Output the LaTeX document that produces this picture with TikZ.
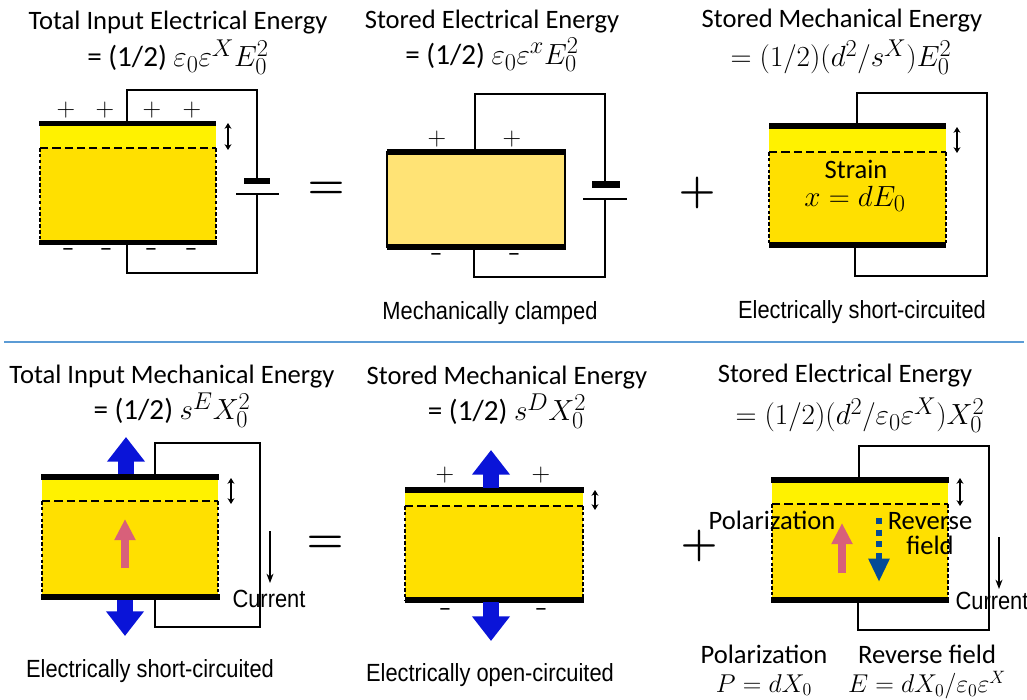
\documentclass[tikz,border=0pt]{standalone}
\usepackage{fontspec}
\usetikzlibrary{arrows.meta}
\setmainfont{Carlito}
\newfontfamily\capfont[FakeStretch=0.88]{Liberation Sans}
\definecolor{bright}{HTML}{FFF200}
\definecolor{crystal}{HTML}{FFE000}
\definecolor{clamped}{HTML}{FFE375}
\definecolor{pushblue}{HTML}{0A14D8}
\definecolor{polpink}{HTML}{D8607A}
\definecolor{fieldblue}{HTML}{044A96}
\definecolor{rulecol}{HTML}{5B9BD5}
\tikzset{
	headline/.style={inner sep=0pt, font=\fontsize{22.7}{26}\selectfont},
	formula/.style={inner sep=0pt, font=\fontsize{24.88}{30}\selectfont},
	smallformula/.style={inner sep=0pt, font=\fontsize{20.74}{26}\selectfont, scale=1.06},
	caption/.style={inner sep=0pt, font=\capfont\fontsize{21.2}{25}\selectfont},
	sign/.style={inner sep=0pt, font=\fontsize{20.74}{26}\selectfont, scale=1.06},
	bigsign/.style={inner sep=0pt, font=\fontsize{24.88}{30}\selectfont\boldmath, scale=1.45},
	plate/.style={line width=5pt},
	wire/.style={line width=1.1pt},
	level/.style={dash pattern=on 7pt off 3.5pt, line width=1.1pt},
	edge/.style={densely dashed, line width=0.9pt},
	strainarrow/.style={{Stealth[length=5pt,width=6pt]}-{Stealth[length=5pt,width=6pt]}, line width=1pt},
	currentarrow/.style={-{Stealth[length=8pt,width=6pt]}, line width=1pt},
	pusharrow/.style={pushblue, line width=14pt, -{Triangle[length=21pt,width=31pt]}},
	polarrow/.style={polpink, line width=6.5pt, -{Triangle[length=18pt,width=17pt]}},
	fieldhead/.style={fieldblue, line width=5.5pt, -{Triangle[length=20pt,width=17pt]}},
	fielddots/.style={fieldblue, line width=5pt, dash pattern=on 5pt off 5pt},
}
\begin{document}
\begin{tikzpicture}[x=0.03cm, y=-0.03cm]
	\useasboundingbox (0,0) rectangle (1027,700);
	\fill[white] (0,0) rectangle (1027,700);

	\node[headline] (titleA) at (178,23) {Total Input Electrical Energy};
	\node[formula] (formA) at (178,57) {= (1/2) $\varepsilon_0\varepsilon^X E_0^2$};
	\fill[crystal] (40,148) rectangle (216,240);
	\fill[bright] (40,124) rectangle (216,148);
	\draw[edge] (40,148) -- (40,240);
	\draw[edge] (216,148) -- (216,240);
	\draw[level] (40,148) -- (216,148);
	\draw[plate] (39,123.5) -- (216,123.5);
	\draw[plate] (39,242.5) -- (217,242.5);
	\coordinate (battA) at (257,178);
	\coordinate (cellA) at (257,194);
	\draw[wire] (127,121) -- (127,90) -- (257,90) -- (battA);
	\draw[wire] (127,240) -- (127,273) -- (257,273) -- (cellA);
	\draw[wire] (236,194) -- (279,194);
	\fill (244,178) rectangle (270,184);
	\draw[strainarrow] (228,123) -- (228,150);
	\foreach \n/\px in {1/66,2/105,3/152,4/192}
		\node[sign] (plusA\n) at (\px,110) {$+$};
	\foreach \n/\px in {1/68,2/106,3/151,4/191}
		\node[sign] (minusA\n) at (\px,253) {--};
	\node[bigsign] (equalA) at (326,190) {$=$};

	\node[headline] (titleB) at (492,22) {Stored Electrical Energy};
	\node[formula] (formB) at (492,55) {= (1/2) $\varepsilon_0\varepsilon^x E_0^2$};
	\fill[clamped] (387,152) rectangle (565,247);
	\draw[wire] (387,152) rectangle (565,247);
	\draw[plate] (387,152) -- (566,152);
	\draw[plate] (387,247) -- (566,247);
	\coordinate (battB) at (605,181);
	\coordinate (cellB) at (605,199);
	\draw[wire] (475,150) -- (475,94) -- (605,94) -- (battB);
	\draw[wire] (474,249) -- (474,277) -- (605,277) -- (cellB);
	\draw[wire] (583,199) -- (627,199);
	\fill (592,181) rectangle (620,188);
	\foreach \n/\px in {1/437,2/512}
		\node[sign] (plusB\n) at (\px,139) {$+$};
	\foreach \n/\px in {1/436,2/514}
		\node[sign] (minusB\n) at (\px,258) {--};
	\node[caption] (capB) at (490,313) {Mechanically clamped};
	\node[bigsign] (plusC) at (697,193) {$+$};

	\node[headline] (titleC) at (842,21) {Stored Mechanical Energy};
	\node[formula] (formC) at (841,57) {$=(1/2)(d^2/s^X)E_0^2$};
	\fill[crystal] (769,152) rectangle (946,244);
	\fill[bright] (769,127) rectangle (946,152);
	\draw[edge] (769,152) -- (769,244);
	\draw[edge] (946,152) -- (946,244);
	\draw[level] (769,152) -- (946,152);
	\draw[plate] (769,126) -- (946,126);
	\draw[plate] (769,245) -- (946,245);
	\draw[wire] (857,124) -- (857,93) -- (987,93) -- (987,276) -- (855,276) -- (855,246);
	\draw[strainarrow] (957,127) -- (957,153);
	\node[headline] (strain) at (856,169) {Strain};
	\node[formula] (strainform) at (855,199) {$x=dE_0$};
	\node[caption] (capC) at (862,312) {Electrically short-circuited};

	\draw[rulecol, line width=2.5pt] (4,342) -- (1024,342);

	\node[headline] (titleD) at (172,377) {Total Input Mechanical Energy};
	\node[formula] (formD) at (172,410) {= (1/2) $s^E X_0^2$};
	\fill[crystal] (42,501) rectangle (218,596);
	\fill[bright] (42,479) rectangle (218,501);
	\draw[edge] (42,501) -- (42,596);
	\draw[edge] (218,501) -- (218,596);
	\draw[level] (42,501) -- (218,501);
	\draw[plate] (41,477) -- (219,477);
	\draw[plate] (41,597) -- (220,597);
	\draw[wire] (155,475) -- (155,443) -- (260,443) -- (260,627) -- (155,627) -- (155,599);
	\draw[pusharrow] (126,474) -- (126,437);
	\draw[pusharrow] (125,600) -- (125,636);
	\draw[polarrow] (125,568) -- (125,519);
	\draw[strainarrow] (231,478) -- (231,504);
	\draw[currentarrow] (270,531) -- (270,583);
	\node[caption] (currentD) at (269,599) {Current};
	\node[caption] (capD) at (150,671) {Electrically short-circuited};
	\node[bigsign] (equalD) at (325,544) {$=$};

	\node[headline] (titleE) at (507,378) {Stored Mechanical Energy};
	\node[formula] (formE) at (507,411) {= (1/2) $s^D X_0^2$};
	\fill[crystal] (405,506) rectangle (583,600);
	\fill[bright] (405,492) rectangle (583,506);
	\draw[edge] (405,506) -- (405,600);
	\draw[edge] (583,506) -- (583,600);
	\draw[level] (405,506) -- (583,506);
	\draw[plate] (405,490) -- (584,490);
	\draw[plate] (405,600) -- (584,600);
	\draw[pusharrow] (491,488) -- (491,450);
	\draw[pusharrow] (491,602) -- (491,641);
	\draw[strainarrow] (595,490) -- (595,510);
	\foreach \n/\px in {1/445,2/541}
		\node[sign] (plusE\n) at (\px,475) {$+$};
	\foreach \n/\px in {1/445,2/541}
		\node[sign] (minusE\n) at (\px,613) {--};
	\node[caption] (capE) at (490,675) {Electrically open-circuited};
	\node[bigsign] (plusF) at (699,546) {$+$};

	\node[headline] (titleF) at (845,376) {Stored Electrical Energy};
	\node[formula] (formF) at (860,415) {$=(1/2)(d^2/\varepsilon_0\varepsilon^X)X_0^2$};
	\fill[crystal] (772,504) rectangle (948,598);
	\fill[bright] (772,480) rectangle (948,504);
	\draw[edge] (772,504) -- (772,598);
	\draw[edge] (948,504) -- (948,598);
	\draw[level] (772,504) -- (948,504);
	\draw[plate] (771,480) -- (949,480);
	\draw[plate] (771,600) -- (949,600);
	\draw[wire] (859,478) -- (859,446) -- (989,446) -- (989,630) -- (858,630) -- (858,602);
	\draw[strainarrow] (960,478) -- (960,506);
	\draw[currentarrow] (999,537) -- (999,589);
	\node[caption] (currentF) at (992,601) {Current};
	\node[headline] (polF) at (772,520) {Polarization};
	\node[headline] (revF) at (930,521) {Reverse};
	\node[headline] (fieldF) at (930,545) {field};
	\draw[polarrow] (842,573) -- (842,523);
	\draw[fielddots] (879,518) -- (879,557);
	\draw[fieldhead] (879,557) -- (879,582);
	\node[headline] (polB) at (764,654) {Polarization};
	\node[smallformula] (polform) at (764,685) {$P=dX_0$};
	\node[headline] (revB) at (927,654) {Reverse field};
	\node[smallformula] (revform) at (927,685) {$E=dX_0/\varepsilon_0\varepsilon^X$};
\end{tikzpicture}
\end{document}
